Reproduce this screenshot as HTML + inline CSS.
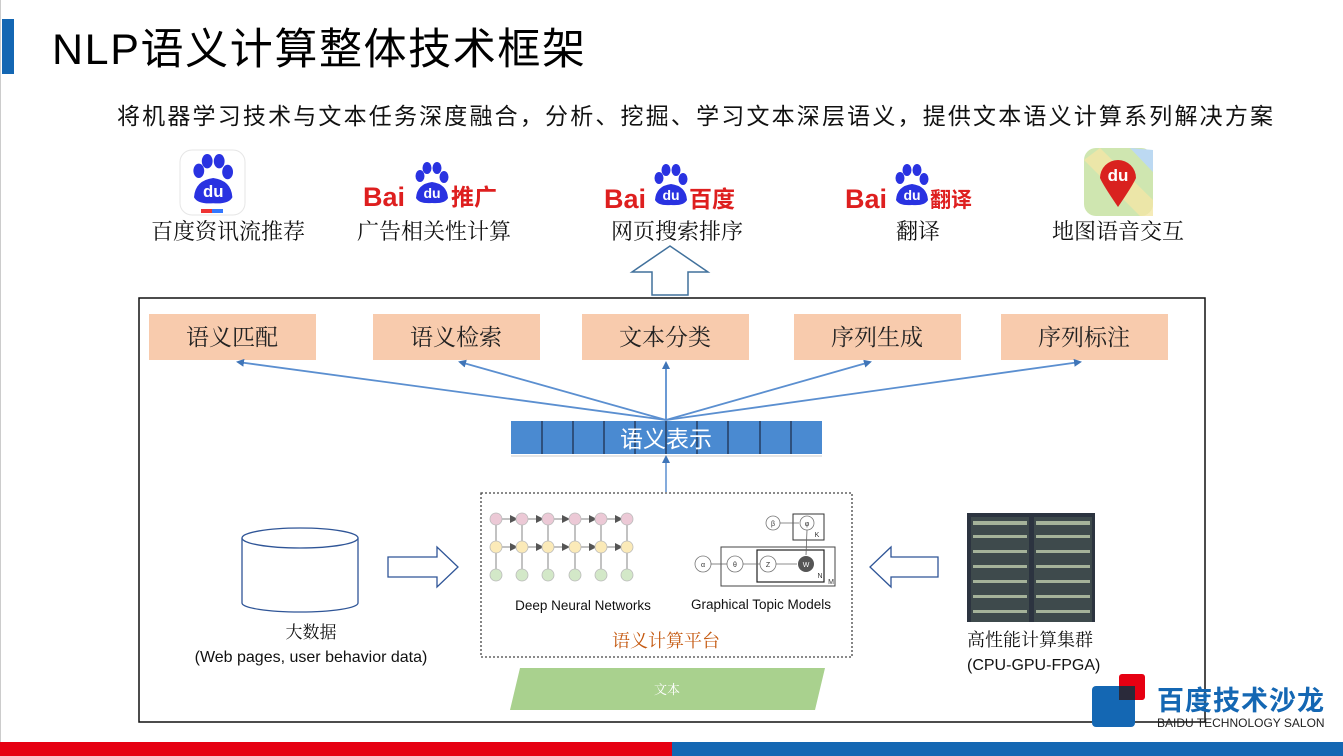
<!DOCTYPE html>
<html><head><meta charset="utf-8"><style>
body{margin:0;width:1343px;height:756px;overflow:hidden;background:#fff;font-family:"Liberation Sans","Noto Sans CJK SC",sans-serif;}
svg{position:absolute;left:0;top:0}
.cj{font-family:"Noto Serif CJK SC","Noto Sans CJK SC",serif}
</style></head><body>
<svg width="1343" height="756" viewBox="0 0 1343 756" xmlns="http://www.w3.org/2000/svg">
<defs>
<g id="paw">
  <ellipse cx="-11" cy="-16" rx="4.5" ry="6" fill="#2932e1"/>
  <ellipse cx="-4" cy="-24" rx="4.5" ry="6" fill="#2932e1"/>
  <ellipse cx="6" cy="-24" rx="4.5" ry="6" fill="#2932e1"/>
  <ellipse cx="13" cy="-15" rx="4.5" ry="6" fill="#2932e1"/>
  <path d="M-15 6 Q-14 -8 1 -10 Q16 -8 17 6 Q14 12 1 11 Q-12 12 -15 6Z" fill="#2932e1"/>
  <text x="1" y="6" font-size="14" font-weight="bold" fill="#fff" text-anchor="middle" font-family="Liberation Sans,sans-serif">du</text>
</g>
<marker id="ah" markerWidth="8" markerHeight="8" refX="6" refY="4" orient="auto" markerUnits="userSpaceOnUse">
  <path d="M0 0 L8 4 L0 8 Z" fill="#3f75b8"/>
</marker>
<marker id="ah2" markerWidth="8" markerHeight="8" refX="6" refY="4" orient="auto" markerUnits="userSpaceOnUse">
  <path d="M0 0 L8 4 L0 8 Z" fill="#555"/>
</marker>
</defs>

<line x1="0.5" y1="0" x2="0.5" y2="742" stroke="#ccc"/>
<rect x="2" y="19" width="12" height="55" fill="#1467b3"/>
<text x="52" y="64" font-size="43" fill="#000" textLength="533" font-family="Liberation Sans,'Noto Sans CJK SC',sans-serif">NLP语义计算整体技术框架</text>
<text x="117" y="124" font-size="23" textLength="1156" fill="#111" font-family="'Noto Sans CJK SC',sans-serif">将机器学习技术与文本任务深度融合，分析、挖掘、学习文本深层语义，提供文本语义计算系列解决方案</text>

<rect x="180" y="150" width="65" height="65" rx="12" fill="#fff" stroke="#e6e6e6"/>
<g transform="translate(212,190) scale(1.2)"><use href="#paw"/></g>
<rect x="201" y="209" width="11" height="4" fill="#e33"/><rect x="212" y="209" width="11" height="4" fill="#37f"/>
<text x="228" y="239" font-size="22" text-anchor="middle" class="cj" fill="#111">百度资讯流推荐</text>

<text x="363" y="206" font-size="27" font-weight="bold" fill="#de1f1f">Bai</text>
<g transform="translate(431,192)"><use href="#paw"/></g>
<text x="451" y="205" font-size="23" font-weight="bold" fill="#de1f1f" font-family="'Noto Sans CJK SC',sans-serif">推广</text>
<text x="434" y="239" font-size="22" text-anchor="middle" class="cj" fill="#111">广告相关性计算</text>

<text x="604" y="208" font-size="27" font-weight="bold" fill="#de1f1f">Bai</text>
<g transform="translate(670,194)"><use href="#paw"/></g>
<text x="689" y="207" font-size="23" font-weight="bold" fill="#de1f1f" font-family="'Noto Sans CJK SC',sans-serif">百度</text>
<text x="677" y="239" font-size="22" text-anchor="middle" class="cj" fill="#111">网页搜索排序</text>

<text x="845" y="208" font-size="27" font-weight="bold" fill="#de1f1f">Bai</text>
<g transform="translate(911,194)"><use href="#paw"/></g>
<text x="930" y="207" font-size="21" font-weight="bold" fill="#de1f1f" font-family="'Noto Sans CJK SC',sans-serif">翻译</text>
<text x="918" y="239" font-size="22" text-anchor="middle" class="cj" fill="#111">翻译</text>

<rect x="1084" y="148" width="69" height="68" rx="12" fill="#cfe6b0"/>
<path d="M1100 148 L1153 200 L1153 216 L1140 216 L1084 160 Z" fill="#f3e6a6" opacity="0.8"/>
<path d="M1130 148 L1153 172 L1153 150Z" fill="#bcd9f2"/>
<path d="M1118 207 Q1103 185 1100 178 A18 18 0 1 1 1136 178 Q1133 185 1118 207Z" fill="#d9221f"/>
<text x="1118" y="181" font-size="17" font-weight="bold" fill="#fff" text-anchor="middle">du</text>
<text x="1118" y="239" font-size="22" text-anchor="middle" class="cj" fill="#111">地图语音交互</text>

<path d="M652 295 L652 272 L632 272 L670 246 L708 272 L688 272 L688 295 Z" fill="#fff" stroke="#41719c" stroke-width="1.5"/>

<rect x="139" y="298" width="1066" height="424" fill="none" stroke="#111" stroke-width="1.5"/>

<g fill="#f8cbad">
<rect x="149" y="314" width="167" height="46"/>
<rect x="373" y="314" width="167" height="46"/>
<rect x="582" y="314" width="167" height="46"/>
<rect x="794" y="314" width="167" height="46"/>
<rect x="1001" y="314" width="167" height="46"/>
</g>
<g font-size="23" text-anchor="middle" class="cj" fill="#222">
<text x="232" y="345">语义匹配</text>
<text x="456" y="345">语义检索</text>
<text x="665" y="345">文本分类</text>
<text x="877" y="345">序列生成</text>
<text x="1084" y="345">序列标注</text>
</g>

<g stroke="#5b8fd0" stroke-width="1.8" marker-end="url(#ah)" fill="none">
<line x1="666" y1="420" x2="238" y2="362"/>
<line x1="666" y1="420" x2="460" y2="362"/>
<line x1="666" y1="420" x2="666" y2="363"/>
<line x1="666" y1="420" x2="870" y2="362"/>
<line x1="666" y1="420" x2="1080" y2="362"/>
</g>

<rect x="511" y="421" width="311" height="33" fill="#4a8ad1"/>
<line x1="511" y1="456" x2="822" y2="456" stroke="#ccc"/>
<g stroke="#1b2a45" stroke-width="1.2">
<line x1="542" y1="421" x2="542" y2="454"/><line x1="573" y1="421" x2="573" y2="454"/>
<line x1="604" y1="421" x2="604" y2="454"/><line x1="635" y1="421" x2="635" y2="454"/>
<line x1="666" y1="421" x2="666" y2="454"/><line x1="697" y1="421" x2="697" y2="454"/>
<line x1="728" y1="421" x2="728" y2="454"/><line x1="760" y1="421" x2="760" y2="454"/>
<line x1="791" y1="421" x2="791" y2="454"/>
</g>
<text x="666" y="447" font-size="23" fill="#fff" text-anchor="middle" font-family="'Noto Sans CJK SC',sans-serif">语义表示</text>
<line x1="666" y1="492" x2="666" y2="457" stroke="#5b8fd0" stroke-width="1.5" marker-end="url(#ah)"/>

<rect x="481" y="493" width="371" height="164" fill="none" stroke="#444" stroke-width="1.3" stroke-dasharray="2 2"/>
<g stroke="#666" stroke-width="0.8" marker-end="url(#ah2)">
<line x1="502" y1="519" x2="516" y2="519"/><line x1="528" y1="519" x2="542" y2="519"/><line x1="554" y1="519" x2="568" y2="519"/><line x1="581" y1="519" x2="595" y2="519"/><line x1="607" y1="519" x2="621" y2="519"/>
<line x1="502" y1="547" x2="516" y2="547"/><line x1="528" y1="547" x2="542" y2="547"/><line x1="554" y1="547" x2="568" y2="547"/><line x1="581" y1="547" x2="595" y2="547"/><line x1="607" y1="547" x2="621" y2="547"/>
</g>
<g stroke="#666" stroke-width="0.8">
<line x1="496" y1="569" x2="496" y2="553"/><line x1="522" y1="569" x2="522" y2="553"/><line x1="548" y1="569" x2="548" y2="553"/><line x1="575" y1="569" x2="575" y2="553"/><line x1="601" y1="569" x2="601" y2="553"/><line x1="627" y1="569" x2="627" y2="553"/>
<line x1="496" y1="541" x2="496" y2="525"/><line x1="522" y1="541" x2="522" y2="525"/><line x1="548" y1="541" x2="548" y2="525"/><line x1="575" y1="541" x2="575" y2="525"/><line x1="601" y1="541" x2="601" y2="525"/><line x1="627" y1="541" x2="627" y2="525"/>
</g>
<g stroke="#bbb" stroke-width="0.8">
<g fill="#ecc9d6"><circle cx="496" cy="519" r="6"/><circle cx="522" cy="519" r="6"/><circle cx="548" cy="519" r="6"/><circle cx="575" cy="519" r="6"/><circle cx="601" cy="519" r="6"/><circle cx="627" cy="519" r="6"/></g>
<g fill="#fbeab8"><circle cx="496" cy="547" r="6"/><circle cx="522" cy="547" r="6"/><circle cx="548" cy="547" r="6"/><circle cx="575" cy="547" r="6"/><circle cx="601" cy="547" r="6"/><circle cx="627" cy="547" r="6"/></g>
<g fill="#d3e8c8"><circle cx="496" cy="575" r="6"/><circle cx="522" cy="575" r="6"/><circle cx="548" cy="575" r="6"/><circle cx="575" cy="575" r="6"/><circle cx="601" cy="575" r="6"/><circle cx="627" cy="575" r="6"/></g>
</g>
<text x="583" y="610" font-size="13.5" text-anchor="middle" fill="#111">Deep Neural Networks</text>
<rect x="793" y="514" width="31" height="26" fill="none" stroke="#333"/>
<rect x="721" y="547" width="114" height="39" fill="none" stroke="#444"/>
<rect x="757" y="550" width="67" height="32" fill="none" stroke="#222" stroke-width="1.2"/>
<g stroke="#777" stroke-width="0.8" fill="#fff">
<circle cx="773" cy="523" r="7"/><circle cx="807" cy="523" r="7"/>
<circle cx="703" cy="564" r="8"/><circle cx="735" cy="564" r="8"/><circle cx="768" cy="564" r="8"/>
</g>
<circle cx="806" cy="564" r="8" fill="#555"/>
<g font-size="7" fill="#333" text-anchor="middle">
<text x="773" y="526">β</text><text x="807" y="526">φ</text><text x="703" y="567">α</text><text x="735" y="567">θ</text><text x="768" y="567">Z</text><text x="806" y="567" fill="#fff">W</text>
<text x="817" y="537">K</text><text x="820" y="578">N</text><text x="831" y="584">M</text>
</g>
<g stroke="#666" stroke-width="0.8">
<line x1="780" y1="523" x2="799" y2="523"/><line x1="807" y1="530" x2="806" y2="555"/>
<line x1="711" y1="564" x2="727" y2="564"/><line x1="743" y1="564" x2="760" y2="564"/><line x1="776" y1="564" x2="797" y2="564"/>
</g>
<text x="761" y="609" font-size="13.5" text-anchor="middle" fill="#111">Graphical Topic Models</text>
<text x="666" y="647" font-size="18" text-anchor="middle" fill="#c55a11" class="cj">语义计算平台</text>

<path d="M520 668 L825 668 L815 710 L510 710 Z" fill="#a9d18e"/>
<text x="667" y="694" font-size="13" fill="#fff" text-anchor="middle" class="cj">文本</text>

<path d="M242 538 L242 603 A58 9 0 0 0 358 603 L358 538" fill="#fff" stroke="#2f5597" stroke-width="1.3"/>
<ellipse cx="300" cy="538" rx="58" ry="10" fill="#fff" stroke="#2f5597" stroke-width="1.3"/>
<text x="311" y="638" font-size="17" text-anchor="middle" class="cj" fill="#111">大数据</text>
<text x="311" y="662" font-size="16" text-anchor="middle" fill="#111">(Web pages, user behavior data)</text>

<path d="M388 557 L437 557 L437 547 L458 567 L437 587 L437 577 L388 577 Z" fill="#fff" stroke="#2f5597" stroke-width="1.3"/>
<path d="M938 557 L891 557 L891 547 L870 567 L891 587 L891 577 L938 577 Z" fill="#fff" stroke="#2f5597" stroke-width="1.3"/>

<rect x="967" y="513" width="128" height="109" fill="#2c3440"/>
<rect x="971" y="517" width="58" height="105" fill="#3e4a4c"/>
<rect x="1034" y="517" width="58" height="105" fill="#3e4a4c"/>
<g fill="#b8c6a8" opacity="0.85">
<rect x="973" y="521" width="54" height="4"/><rect x="1036" y="521" width="54" height="4"/>
<rect x="973" y="535" width="54" height="3"/><rect x="1036" y="535" width="54" height="3"/>
<rect x="973" y="550" width="54" height="3"/><rect x="1036" y="550" width="54" height="3"/>
<rect x="973" y="565" width="54" height="3"/><rect x="1036" y="565" width="54" height="3"/>
<rect x="973" y="580" width="54" height="3"/><rect x="1036" y="580" width="54" height="3"/>
<rect x="973" y="595" width="54" height="3"/><rect x="1036" y="595" width="54" height="3"/>
<rect x="973" y="610" width="54" height="3"/><rect x="1036" y="610" width="54" height="3"/>
</g>
<text x="967" y="646" font-size="18" class="cj" fill="#111">高性能计算集群</text>
<text x="967" y="670" font-size="16" fill="#111">(CPU-GPU-FPGA)</text>

<rect x="1092" y="686" width="43" height="41" rx="4" fill="#1467b3"/>
<rect x="1119" y="674" width="26" height="26" rx="3" fill="#e60012"/>
<rect x="1119" y="686" width="16" height="14" fill="#2a2a3a"/>
<text x="1157" y="710" font-size="27" font-weight="bold" fill="#1467b3" font-family="'Noto Sans CJK SC',sans-serif" letter-spacing="1">百度技术沙龙</text>
<text x="1157" y="727" font-size="12" fill="#222">BAIDU TECHNOLOGY SALON</text>

<rect x="0" y="742" width="672" height="14" fill="#e60012"/>
<rect x="672" y="742" width="671" height="14" fill="#1467b3"/>
</svg>
</body></html>
